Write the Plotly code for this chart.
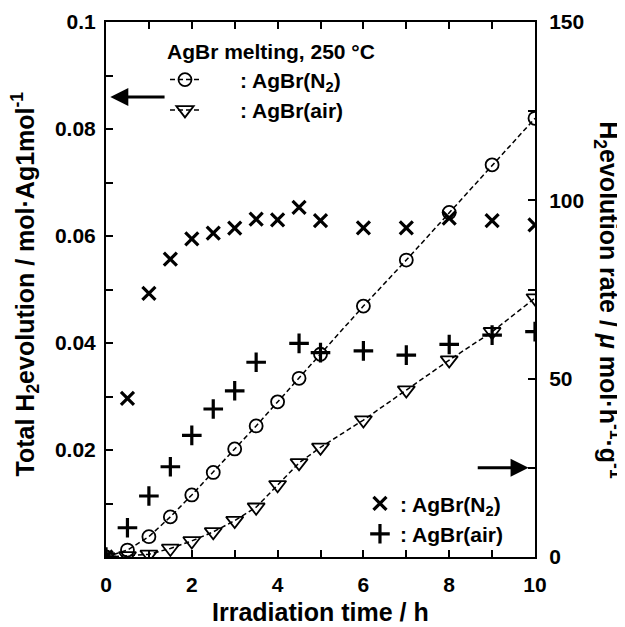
import plotly.graph_objects as go

# Irradiation time / h
time_h = [0, 0.5, 1, 1.5, 2, 2.5, 3, 3.5, 4, 4.5, 5, 6, 7, 8, 9, 10]

# Total H2 evolution (left axis), mol per Ag mol
total_n2 = [0, 0.0013, 0.0038, 0.0075, 0.0116, 0.0158, 0.0202, 0.0245, 0.0290,
            0.0334, 0.0379, 0.0469, 0.0555, 0.0644, 0.0733, 0.0820]
total_air = [0, 0.0002, 0.0005, 0.0016, 0.0030, 0.0047, 0.0068, 0.0093, 0.0135,
             0.0176, 0.0205, 0.0256, 0.0312, 0.0368, 0.0421, 0.0484]

# H2 evolution rate (right axis), umol h-1 g-1
rate_n2 = [0, 44.5, 73.9, 83.5, 89.2, 90.8, 92.2, 94.7, 94.5, 98.0, 94.3,
           92.3, 92.3, 95.0, 94.3, 93.1]
time_rate_air = [0, 0.5, 1, 1.5, 2, 2.5, 3, 3.5, 4.5, 5, 6, 7, 8, 9, 10]
rate_air = [0, 8.2, 17.1, 25.3, 34.1, 41.5, 46.6, 54.6, 59.9, 57.3, 57.8,
            56.6, 59.6, 62.2, 63.2]

x_tickvals = [0, 2, 4, 6, 8, 10]
x_ticktext = ["0", "2", "4", "6", "8", "10"]
x_minor = [1, 3, 5, 7, 9]
y_tickvals = [0.02, 0.04, 0.06, 0.08, 0.1]
y_ticktext = ["0.02", "0.04", "0.06", "0.08", "0.1"]
y_minor = [0.01, 0.03, 0.05, 0.07, 0.09]
y2_tickvals = [0, 50, 100, 150]
y2_ticktext = ["0", "50", "100", "150"]
y2_minor = [25, 75, 125]

FONT = "Liberation Sans, Arial, Helvetica, sans-serif"
NB = "\u00a0"

fig = go.Figure()

fig.add_trace(go.Scatter(
    x=time_h, y=total_n2, mode="lines+markers",
    name=NB * 6 + ": AgBr(N<sub>2</sub>)",
    line=dict(color="black", width=1.5, dash="5px,3px"),
    marker=dict(symbol="circle-open", size=13, color="black", line=dict(width=1.8)),
    legend="legend", legendgroup="a",
))
fig.add_trace(go.Scatter(
    x=time_h, y=total_air, mode="lines+markers",
    name=NB * 6 + ": AgBr(air)",
    line=dict(color="black", width=1.5, dash="5px,3px"),
    marker=dict(symbol="triangle-down-open", size=15, color="black", line=dict(width=1.8)),
    legend="legend", legendgroup="b",
))
fig.add_trace(go.Scatter(
    x=time_h, y=rate_n2, mode="markers", yaxis="y2",
    name=": AgBr(N<sub>2</sub>)",
    marker=dict(symbol="x-thin-open", size=13, color="black", line=dict(width=3.2, color="black")),
    legend="legend2", legendgroup="c",
))
fig.add_trace(go.Scatter(
    x=time_rate_air, y=rate_air, mode="markers", yaxis="y2",
    name=": AgBr(air)",
    marker=dict(symbol="cross-thin-open", size=14, color="black", line=dict(width=3.2, color="black")),
    legend="legend2", legendgroup="d",
))

tick_style = dict(ticks="inside", ticklen=7, tickwidth=1.5, tickcolor="black")
axis_common = dict(showgrid=False, zeroline=False, showline=True, linecolor="black",
                   linewidth=2, automargin=False,
                   tickfont=dict(size=21, color="black", family=FONT, weight="bold"),
                   **tick_style)

# The page body has an 8px margin, so the figure is 8px smaller than the window.
fig.update_layout(
    width=617, height=619,
    margin=dict(l=98, r=90, t=14, b=70),
    paper_bgcolor="white", plot_bgcolor="white",
    font=dict(family=FONT, color="black", weight="bold", size=21),
    xaxis=dict(range=[0, 10], tickvals=x_tickvals, ticktext=x_ticktext, mirror="ticks",
               ticklabelstandoff=8, minor=dict(tickvals=x_minor, showgrid=False, **tick_style),
               **axis_common),
    yaxis=dict(range=[0, 0.1], tickvals=y_tickvals, ticktext=y_ticktext,
               ticklabelstandoff=4, minor=dict(tickvals=y_minor, showgrid=False, **tick_style),
               **axis_common),
    yaxis2=dict(range=[0, 150], tickvals=y2_tickvals, ticktext=y2_ticktext, overlaying="y",
                side="right", ticklabelstandoff=8,
                minor=dict(tickvals=y2_minor, showgrid=False, **tick_style), **axis_common),
    legend=dict(x=0.1375, y=0.981, xanchor="left", yanchor="top", bgcolor="rgba(0,0,0,0)",
                title=dict(text="AgBr melting, 250 °C", font=dict(size=21)),
                font=dict(size=21), tracegroupgap=0, traceorder="grouped"),
    legend2=dict(x=0.592, y=0.005, xanchor="left", yanchor="bottom", bgcolor="rgba(0,0,0,0)",
                 font=dict(size=21), tracegroupgap=0, traceorder="grouped"),
    showlegend=True,
)

fig.add_annotation(text="Irradiation time / h", xref="paper", yref="paper",
                   x=0.5, y=-0.103, xanchor="center", yanchor="middle",
                   showarrow=False, font=dict(size=25))
fig.add_annotation(text="Total H<sub>2</sub>evolution / mol·Ag1mol<sup>-1</sup>",
                   xref="paper", yref="paper", x=-0.188, y=0.51, xanchor="center",
                   yanchor="middle", textangle=-90, showarrow=False, font=dict(size=25))
fig.add_annotation(text="H<sub>2</sub>evolution rate / <i>μ</i> mol·h<sup>-1</sup>·g<sup>-1</sup>",
                   xref="paper", yref="paper", x=1.17, y=0.48, xanchor="center",
                   yanchor="middle", textangle=90, showarrow=False, font=dict(size=25))

# arrows indicating axes
fig.add_annotation(x=0.1, y=0.086, ax=1.4, ay=0.086, xref="x", yref="y", axref="x", ayref="y",
                   text="", showarrow=True, arrowhead=2, arrowsize=1.2, arrowwidth=3,
                   arrowcolor="black")
fig.add_annotation(x=9.85, y=25, ax=8.63, ay=25, xref="x", yref="y2", axref="x", ayref="y2",
                   text="", showarrow=True, arrowhead=2, arrowsize=1.2, arrowwidth=3,
                   arrowcolor="black")

fig.write_html("out.html")
